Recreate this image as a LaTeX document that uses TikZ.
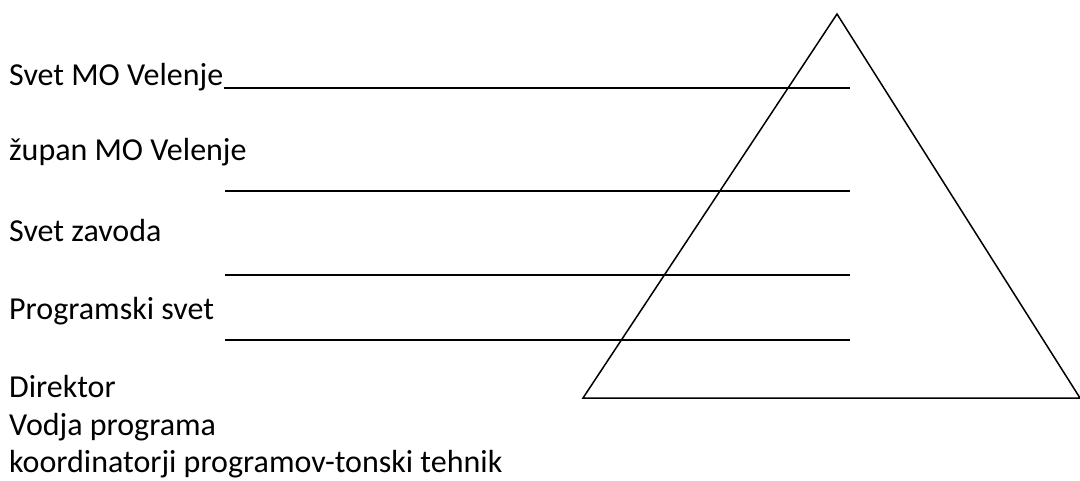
\documentclass[tikz,border=0pt]{standalone}
\usepackage{fontspec}
\setmainfont{Carlito}
\begin{document}
\begin{tikzpicture}[x=1pt,y=-1pt,
  lbl/.style={anchor=base west,inner sep=0pt,font=\fontsize{32}{38}\selectfont},
  rule/.style={line width=2pt},
  tri/.style={line width=1.5pt,line join=miter}]
\useasboundingbox (0,0) rectangle (1080,480);
\node[lbl] (t1) at (9,85) {Svet MO Velenje};
\node[lbl] (t2) at (9,160) {župan MO Velenje};
\node[lbl] (t3) at (9,241) {Svet zavoda};
\node[lbl] (t4) at (9,319) {Programski svet};
\node[lbl] (t5) at (9,397) {Direktor};
\node[lbl] (t6) at (9,435) {Vodja programa};
\node[lbl] (t7) at (9,472) {koordinatorji programov-tonski tehnik};
\coordinate (l1a) at (t1.base east |- 0,88);  \coordinate (l1b) at (850,88);
\coordinate (l2a) at (225,191); \coordinate (l2b) at (850,191);
\coordinate (l3a) at (225,275); \coordinate (l3b) at (850,275);
\coordinate (l4a) at (225,340); \coordinate (l4b) at (850,340);
\draw[rule] (l1a) -- (l1b);
\draw[rule] (l2a) -- (l2b);
\draw[rule] (l3a) -- (l3b);
\draw[rule] (l4a) -- (l4b);
\coordinate (apex) at (837,14);
\coordinate (bl) at (583,398);
\coordinate (br) at (1080,398);
\draw[tri] (apex) -- (bl) -- (br) -- cycle;
\end{tikzpicture}
\end{document}
